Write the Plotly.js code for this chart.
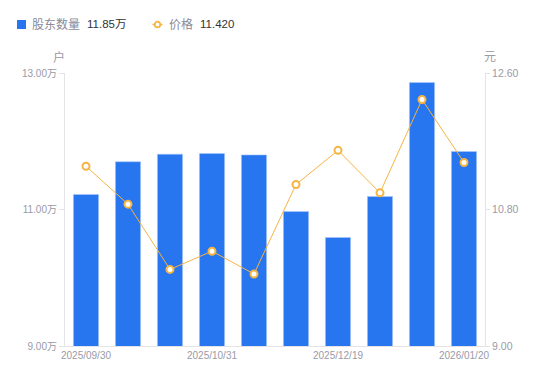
<!DOCTYPE html>
<html>
<head>
<meta charset="utf-8">
<script src="https://cdn.plot.ly/plotly-3.0.1.min.js"></script>
<style>html,body{margin:0;padding:0;background:#fff;}#chart{width:550px;height:381px;}</style>
</head>
<body>
<div id="chart"></div>
<script>
const dates = ['2025/09/30','2025/10/10','2025/10/20','2025/10/31','2025/11/20','2025/11/30','2025/12/19','2025/12/31','2026/01/09','2026/01/20'];
const holders = [11.22, 11.70, 11.81, 11.82, 11.80, 10.97, 10.59, 11.19, 12.86, 11.85]; // 万户
const price = [11.37, 10.87, 10.01, 10.25, 9.95, 11.13, 11.58, 11.02, 12.25, 11.42];
const shownTicks = ['2025/09/30','2025/10/31','2025/12/19','2026/01/20'];
const leftTicks = [9, 11, 13];
const rightTicks = [9.0, 10.8, 12.6];

const font = "'Liberation Sans', Arial, 'Noto Sans CJK SC', sans-serif";
const grey = '#9a9aa8';
const blue = '#2776f0';
const orange = '#f6b443';

// plot-area geometry (pixels) for placing legend decorations
const L = 65, R = 485, T = 73, B = 346;
const px = x => (x - L) / (R - L);
const py = y => (B - y) / (B - T);

const traces = [
  {
    type: 'bar', x: dates, y: holders, yaxis: 'y', name: '股东数量',
    marker: {color: blue, line: {color: '#a9c8f8', width: 0.6}},
    hoverinfo: 'x+y'
  },
  {
    type: 'scatter', mode: 'lines+markers', x: dates, y: price, yaxis: 'y2', name: '价格',
    line: {color: orange, width: 1},
    marker: {color: '#ffffff', size: 7, line: {color: orange, width: 2}},
    hoverinfo: 'x+y'
  }
];

const legY = 24.5;
const annotations = [
  {text: '户', xref: 'paper', yref: 'paper', x: px(58.5), y: py(57), xanchor: 'center', yanchor: 'middle', showarrow: false, font: {size: 12, color: grey}},
  {text: '元', xref: 'paper', yref: 'paper', x: px(490), y: py(57), xanchor: 'center', yanchor: 'middle', showarrow: false, font: {size: 12, color: grey}},
  {text: '股东数量', xref: 'paper', yref: 'paper', x: px(29.5), y: py(legY), xanchor: 'left', yanchor: 'middle', showarrow: false, font: {size: 12, color: '#8a8a99', family: font}},
  {text: holders[holders.length - 1].toFixed(2) + '万', xref: 'paper', yref: 'paper', x: px(85), y: py(legY), xanchor: 'left', yanchor: 'middle', showarrow: false, font: {size: 11.5, color: '#333', family: font}},
  {text: '价格', xref: 'paper', yref: 'paper', x: px(167), y: py(legY), xanchor: 'left', yanchor: 'middle', showarrow: false, font: {size: 12, color: '#8a8a99', family: font}},
  {text: price[price.length - 1].toFixed(3), xref: 'paper', yref: 'paper', x: px(198), y: py(legY), xanchor: 'left', yanchor: 'middle', showarrow: false, font: {size: 11.5, color: '#333', family: font}}
];

const shapes = [
  {type: 'rect', xref: 'paper', yref: 'paper', x0: px(17), x1: px(26), y0: py(29), y1: py(20), fillcolor: blue, line: {width: 0}},
  {type: 'line', xref: 'paper', yref: 'paper', x0: px(152.5), x1: px(162.5), y0: py(legY), y1: py(legY), line: {color: orange, width: 1.5}},
  {type: 'circle', xref: 'paper', yref: 'paper', x0: px(154.7), x1: px(160.3), y0: py(legY + 2.8), y1: py(legY - 2.8), fillcolor: '#fff', line: {color: orange, width: 1.8}}
];

const layout = {
  width: 550, height: 381,
  margin: {l: L, r: 550 - R, t: T, b: 381 - B},
  paper_bgcolor: '#fff', plot_bgcolor: '#fff',
  font: {family: font, size: 10, color: grey},
  bargap: 0.4,
  showlegend: false,
  xaxis: {
    type: 'category', categoryorder: 'array', categoryarray: dates,
    range: [-0.5, dates.length - 0.5], automargin: false,
    tickmode: 'array', tickvals: shownTicks, ticktext: shownTicks,
    showgrid: false, showline: true, linecolor: '#e3e3e8', linewidth: 1,
    ticks: '', tickfont: {size: 10, color: grey}, zeroline: false
  },
  yaxis: {
    range: [9, 13], automargin: false, tickmode: 'array', tickvals: leftTicks,
    ticktext: leftTicks.map(v => v.toFixed(2) + '万'),
    showgrid: false, showline: true, linecolor: '#e3e3e8', linewidth: 1,
    ticks: 'outside', ticklen: 5, tickcolor: '#e3e3e8', zeroline: false,
    tickfont: {size: 10, color: grey}
  },
  yaxis2: {
    overlaying: 'y', side: 'right', range: [9, 12.6], automargin: false, tickmode: 'array',
    tickvals: rightTicks, ticktext: rightTicks.map(v => v.toFixed(2)),
    showgrid: false, showline: true, linecolor: '#e3e3e8', linewidth: 1,
    ticks: 'outside', ticklen: 4, tickcolor: '#e3e3e8', zeroline: false,
    tickfont: {size: 10.5, color: grey}
  },
  annotations: annotations,
  shapes: shapes
};

Plotly.newPlot('chart', traces, layout, {displayModeBar: false, staticPlot: true});
</script>
</body>
</html>
